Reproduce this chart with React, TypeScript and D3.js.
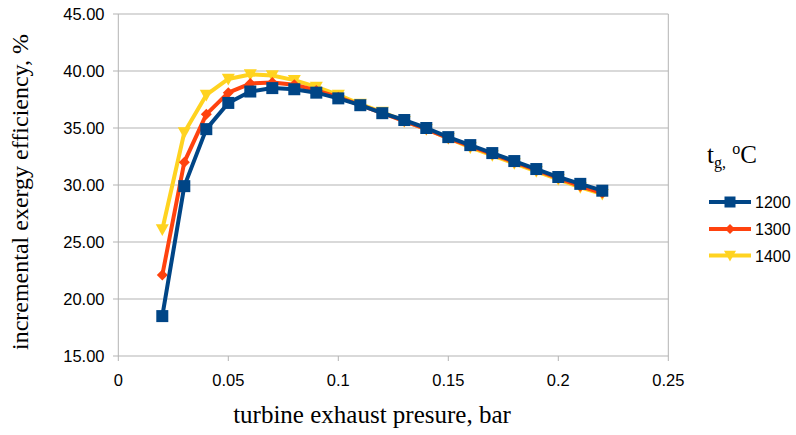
import React from "react";
import * as d3 from "d3";

const pressures = [0.02, 0.03, 0.04, 0.05, 0.06, 0.07, 0.08, 0.09, 0.1, 0.11, 0.12, 0.13, 0.14, 0.15, 0.16, 0.17, 0.18, 0.19, 0.2, 0.21, 0.22];
const eff1200 = [18.5, 29.9, 34.9, 37.2, 38.2, 38.5, 38.4, 38.1, 37.6, 37.0, 36.3, 35.7, 35.0, 34.2, 33.5, 32.8, 32.1, 31.4, 30.7, 30.1, 29.5];
const eff1300 = [22.1, 32.0, 36.2, 38.1, 38.9, 39.0, 38.8, 38.3, 37.7, 37.0, 36.3, 35.6, 34.9, 34.1, 33.4, 32.7, 32.0, 31.3, 30.6, 29.9, 29.3];
const eff1400 = [26.1, 34.6, 37.9, 39.3, 39.7, 39.6, 39.2, 38.6, 37.9, 37.1, 36.4, 35.6, 34.9, 34.1, 33.3, 32.6, 31.9, 31.2, 30.5, 29.8, 29.2];
const seriesNames = ["1200", "1300", "1400"];
const xTicks = [0, 0.05, 0.1, 0.15, 0.2, 0.25];
const yTicks = [15, 20, 25, 30, 35, 40, 45];

const colors: Record<string, string> = { "1200": "#004586", "1300": "#ff420e", "1400": "#ffd320" };
const symbols: Record<string, string> = { "1200": "square", "1300": "diamond", "1400": "triangle" };

function Marker({ kind, x, y, color, s }: { kind: string; x: number; y: number; color: string; s: number }) {
  if (kind === "square") {
    return <rect x={x - s / 2} y={y - s / 2} width={s} height={s} fill={color} />;
  }
  if (kind === "diamond") {
    const h = s / 2;
    return <path d={`M${x},${y - h}L${x + h},${y}L${x},${y + h}L${x - h},${y}Z`} fill={color} />;
  }
  const h = s / 2;
  return <path d={`M${x - h},${y - h * 0.8}L${x + h},${y - h * 0.8}L${x},${y + h}Z`} fill={color} />;
}

export default function App() {
  const W = 796, H = 435;
  const x = d3.scaleLinear().domain([0, 0.25]).range([118.3, 668.3]);
  const y = d3.scaleLinear().domain([15, 45]).range([356, 14]);
  const dataMap: Record<string, number[]> = { "1200": eff1200, "1300": eff1300, "1400": eff1400 };
  const line = d3.line<number>().x((_, i) => x(pressures[i])).y((d) => y(d));
  const drawOrder = ["1400", "1300", "1200"];
  const sizes: Record<string, number> = { "1200": 12, "1300": 11, "1400": 13 };
  const sans = "'Liberation Sans', Arial, sans-serif";
  const serif = "'Liberation Serif', 'Times New Roman', serif";

  return (
    <svg width={W} height={H} style={{ position: "absolute", left: 0, top: 0, background: "#fff" }}>
      <rect width={W} height={H} fill="#fff" />
      {yTicks.map((t) => (
        <g key={t}>
          <line x1={113} x2={668.3} y1={y(t)} y2={y(t)} stroke="#b3b3b3" strokeWidth={1} />
          <text x={104.5} y={y(t) + 6} textAnchor="end" fontFamily={sans} fontSize={16.5} fill="#000">
            {t.toFixed(2)}
          </text>
        </g>
      ))}
      <line x1={118.3} x2={118.3} y1={14} y2={356} stroke="#b3b3b3" />
      <line x1={668.3} x2={668.3} y1={14} y2={356} stroke="#b3b3b3" />
      {xTicks.map((t) => (
        <g key={t}>
          <line x1={x(t)} x2={x(t)} y1={356} y2={361} stroke="#b3b3b3" />
          <text x={x(t)} y={386} textAnchor="middle" fontFamily={sans} fontSize={16.5} fill="#000">
            {String(t)}
          </text>
        </g>
      ))}
      {drawOrder.map((name) => (
        <g key={name}>
          <path d={line(dataMap[name]) || ""} fill="none" stroke={colors[name]} strokeWidth={4} strokeLinejoin="round" />
          {dataMap[name].map((v, i) => (
            <Marker key={i} kind={symbols[name]} x={x(pressures[i])} y={y(v)} color={colors[name]} s={sizes[name]} />
          ))}
        </g>
      ))}
      <text
        transform={`translate(28,192) rotate(-90)`}
        textAnchor="middle"
        fontFamily={serif}
        fontSize={24}
        fill="#000"
      >
        incremental exergy efficiency, %
      </text>
      <text x={372} y={423} textAnchor="middle" fontFamily={serif} fontSize={25} fill="#000">
        turbine exhaust presure, bar
      </text>
      <text x={707} y={163} fontFamily={serif} fontSize={25} fill="#000">
        t<tspan fontSize={16} dy={5}>g,</tspan>
        <tspan dy={-5}> </tspan>
        <tspan fontSize={16} dy={-9}>o</tspan>
        <tspan dy={9}>C</tspan>
      </text>
      {seriesNames.map((name, i) => {
        const ly = [202, 229, 255.5][i];
        return (
          <g key={name}>
            <line x1={709} x2={751} y1={ly} y2={ly} stroke={colors[name]} strokeWidth={4} />
            <Marker kind={symbols[name]} x={730} y={ly} color={colors[name]} s={sizes[name] - 1} />
            <text x={755} y={ly + 6} fontFamily={sans} fontSize={16} fill="#000">
              {name}
            </text>
          </g>
        );
      })}
    </svg>
  );
}
